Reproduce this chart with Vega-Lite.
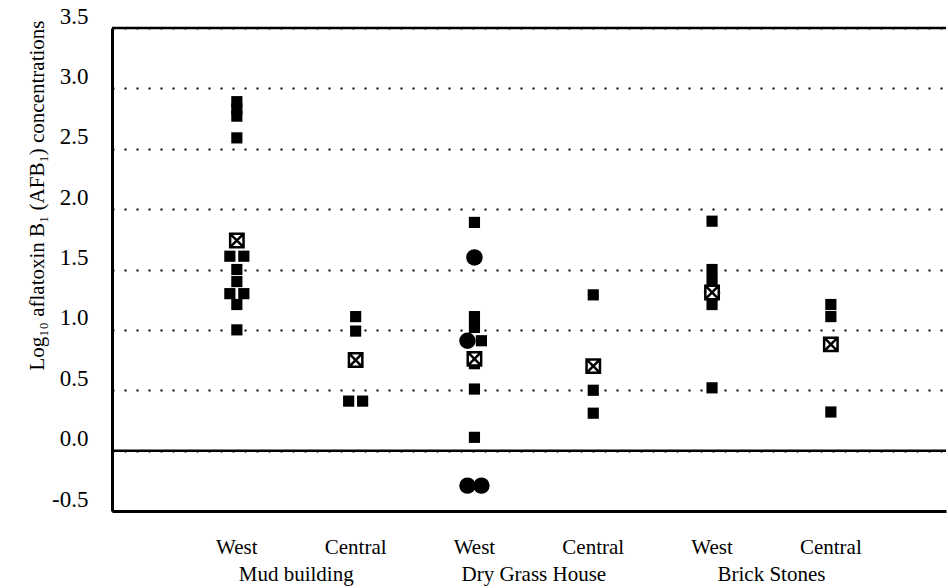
{
  "$schema": "https://vega.github.io/schema/vega-lite/v6.json",
  "width": 834,
  "height": 483,
  "autosize": {"type": "none"},
  "padding": {"left": 112, "top": 28, "right": 2, "bottom": 77},
  "background": "white",
  "config": {"view": {"stroke": null}, "font": "Liberation Serif"},
  "datasets": {
    "obs": [
      {"cat": "Mud building West", "kind": "sample", "slot": 0, "v": 2.89},
      {"cat": "Mud building West", "kind": "sample", "slot": 0, "v": 2.83},
      {"cat": "Mud building West", "kind": "sample", "slot": 0, "v": 2.77},
      {"cat": "Mud building West", "kind": "sample", "slot": 0, "v": 2.59},
      {"cat": "Mud building West", "kind": "sample", "slot": -1, "v": 1.61},
      {"cat": "Mud building West", "kind": "sample", "slot": 1, "v": 1.61},
      {"cat": "Mud building West", "kind": "sample", "slot": 0, "v": 1.5},
      {"cat": "Mud building West", "kind": "sample", "slot": 0, "v": 1.4},
      {"cat": "Mud building West", "kind": "sample", "slot": -1, "v": 1.3},
      {"cat": "Mud building West", "kind": "sample", "slot": 1, "v": 1.3},
      {"cat": "Mud building West", "kind": "sample", "slot": 0, "v": 1.21},
      {"cat": "Mud building West", "kind": "sample", "slot": 0, "v": 1.0},
      {"cat": "Mud building West", "kind": "mean", "slot": 0, "v": 1.74},
      {"cat": "Mud building Central", "kind": "sample", "slot": 0, "v": 1.11},
      {"cat": "Mud building Central", "kind": "sample", "slot": 0, "v": 0.99},
      {"cat": "Mud building Central", "kind": "sample", "slot": -1, "v": 0.41},
      {"cat": "Mud building Central", "kind": "sample", "slot": 1, "v": 0.41},
      {"cat": "Mud building Central", "kind": "mean", "slot": 0, "v": 0.75},
      {"cat": "Dry Grass House West", "kind": "sample", "slot": 0, "v": 1.89},
      {"cat": "Dry Grass House West", "kind": "sample", "slot": 0, "v": 1.11},
      {"cat": "Dry Grass House West", "kind": "sample", "slot": 0, "v": 1.02},
      {"cat": "Dry Grass House West", "kind": "sample", "slot": 1, "v": 0.91},
      {"cat": "Dry Grass House West", "kind": "sample", "slot": 0, "v": 0.72},
      {"cat": "Dry Grass House West", "kind": "sample", "slot": 0, "v": 0.51},
      {"cat": "Dry Grass House West", "kind": "sample", "slot": 0, "v": 0.11},
      {"cat": "Dry Grass House West", "kind": "blob", "slot": 0, "v": 1.6},
      {"cat": "Dry Grass House West", "kind": "blob", "slot": -1, "v": 0.91},
      {"cat": "Dry Grass House West", "kind": "blob", "slot": -1, "v": -0.29},
      {"cat": "Dry Grass House West", "kind": "blob", "slot": 1, "v": -0.29},
      {"cat": "Dry Grass House West", "kind": "mean", "slot": 0, "v": 0.76},
      {"cat": "Dry Grass House Central", "kind": "sample", "slot": 0, "v": 1.29},
      {"cat": "Dry Grass House Central", "kind": "sample", "slot": 0, "v": 0.5},
      {"cat": "Dry Grass House Central", "kind": "sample", "slot": 0, "v": 0.31},
      {"cat": "Dry Grass House Central", "kind": "mean", "slot": 0, "v": 0.7},
      {"cat": "Brick Stones West", "kind": "sample", "slot": 0, "v": 1.9},
      {"cat": "Brick Stones West", "kind": "sample", "slot": 0, "v": 1.5},
      {"cat": "Brick Stones West", "kind": "sample", "slot": 0, "v": 1.41},
      {"cat": "Brick Stones West", "kind": "sample", "slot": 0, "v": 1.21},
      {"cat": "Brick Stones West", "kind": "sample", "slot": 0, "v": 0.52},
      {"cat": "Brick Stones West", "kind": "blob", "slot": 0, "v": 1.31},
      {"cat": "Brick Stones West", "kind": "mean", "slot": 0, "v": 1.31},
      {"cat": "Brick Stones Central", "kind": "sample", "slot": 0, "v": 1.21},
      {"cat": "Brick Stones Central", "kind": "sample", "slot": 0, "v": 1.11},
      {"cat": "Brick Stones Central", "kind": "sample", "slot": 0, "v": 0.32},
      {"cat": "Brick Stones Central", "kind": "mean", "slot": 0, "v": 0.88}
    ],
    "groups": [
      {"cat": "Mud building West", "house": "Mud building"},
      {"cat": "Dry Grass House West", "house": "Dry Grass House"},
      {"cat": "Brick Stones West", "house": "Brick Stones"}
    ],
    "lines": [
      {"level": 0},
      {"level": 3.5}
    ]
  },
  "layer": [
    {
      "data": {"name": "obs"},
      "transform": [{"filter": "datum.kind === 'blob'"}],
      "mark": {"type": "circle", "size": 270, "color": "black", "opacity": 1},
      "encoding": {
        "x": {
          "field": "cat", "type": "nominal",
          "scale": {"type": "band", "domain": ["Mud building West", "Mud building Central", "Dry Grass House West", "Dry Grass House Central", "Brick Stones West", "Brick Stones Central"], "paddingInner": 0, "paddingOuter": 0.51, "align": 0.54},
          "axis": {
            "title": null, "ticks": false, "domain": true, "domainColor": "black", "domainWidth": 3,
            "labelAngle": 0, "labelFont": "Liberation Serif", "labelFontSize": 21, "labelColor": "black", "labelPadding": 25,
            "labelExpr": "slice(datum.value, lastindexof(datum.value, ' ') + 1)"
          }
        },
        "xOffset": {"field": "slot", "type": "quantitative", "scale": {"domain": [-8.5, 8.5]}},
        "y": {
          "field": "v", "type": "quantitative",
          "scale": {"domain": [-0.5, 3.5], "nice": false, "zero": false},
          "axis": {
            "values": [-0.5, 0, 0.5, 1, 1.5, 2, 2.5, 3, 3.5],
            "labelExpr": "datum.value < 0 ? '-' + format(-datum.value, '.1f') : format(datum.value, '.1f')",
            "ticks": false, "domain": true, "domainColor": "black", "domainWidth": 3,
            "grid": true, "gridColor": "black", "gridDash": [2, 10], "gridWidth": 2, "gridOpacity": 1,
            "labelFont": "Liberation Serif", "labelFontSize": 23, "labelColor": "black", "labelPadding": 24,
            "labelBaseline": "bottom",
            "title": "Log₁₀ aflatoxin B₁ (AFB₁) concentrations",
            "titleFont": "Liberation Serif", "titleFontSize": 21, "titleFontWeight": "normal", "titleColor": "black",
            "titleAnchor": "end", "titleAlign": "right", "titleX": -75, "titleY": -8, "titleBaseline": "middle"
          }
        }
      }
    },
    {
      "data": {"name": "obs"},
      "transform": [{"filter": "datum.kind === 'sample'"}],
      "mark": {"type": "square", "size": 125, "color": "black", "opacity": 1},
      "encoding": {
        "x": {"field": "cat", "type": "nominal"},
        "xOffset": {"field": "slot", "type": "quantitative"},
        "y": {"field": "v", "type": "quantitative"}
      }
    },
    {
      "data": {"name": "obs"},
      "transform": [{"filter": "datum.kind === 'mean'"}],
      "mark": {"type": "point", "shape": "M-1,-1H1V1H-1Z M-1,-1L1,1 M1,-1L-1,1", "filled": true, "fill": "white", "stroke": "black", "strokeWidth": 2.5, "size": 180, "opacity": 1},
      "encoding": {
        "x": {"field": "cat", "type": "nominal"},
        "xOffset": {"field": "slot", "type": "quantitative"},
        "y": {"field": "v", "type": "quantitative"}
      }
    },
    {
      "data": {"name": "lines"},
      "mark": {"type": "rule", "color": "black", "strokeWidth": 2.5},
      "encoding": {"y": {"field": "level", "type": "quantitative"}}
    },
    {
      "data": {"name": "groups"},
      "mark": {"type": "text", "font": "Liberation Serif", "fontSize": 21, "color": "black", "baseline": "top", "align": "center", "dy": 53},
      "encoding": {
        "x": {"field": "cat", "type": "nominal"},
        "xOffset": {"datum": 8.5, "type": "quantitative"},
        "y": {"datum": -0.5, "type": "quantitative"},
        "text": {"field": "house"}
      }
    }
  ]
}
